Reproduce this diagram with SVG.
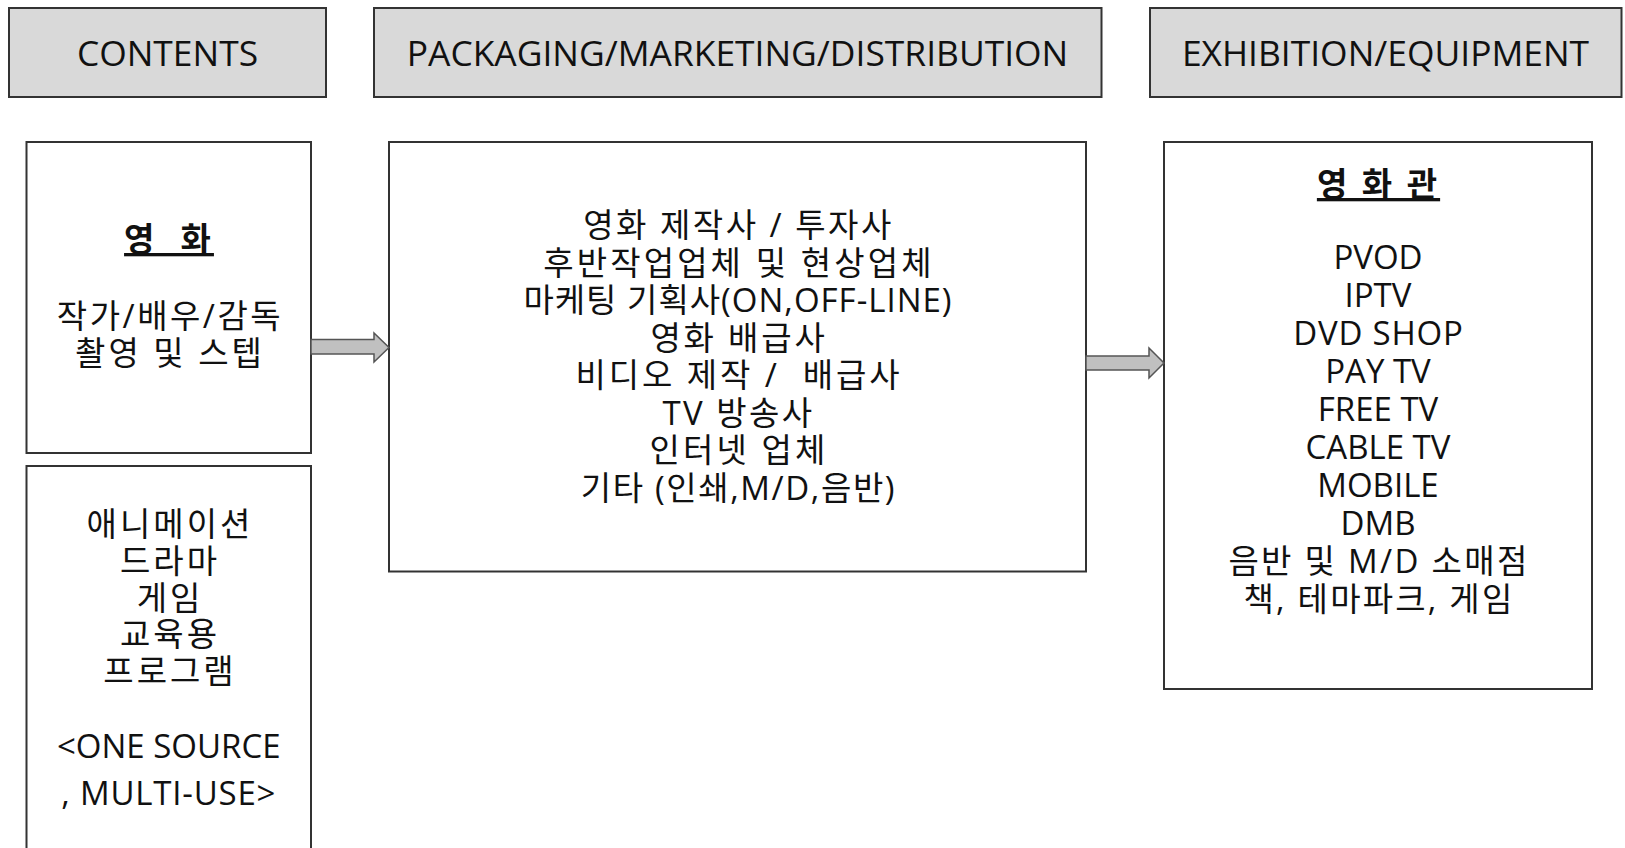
<svg xmlns="http://www.w3.org/2000/svg" width="1625" height="848" viewBox="0 0 1625 848">
<style>
.hdr{fill:#d9d9d9;stroke:#333;stroke-width:2}
.box{fill:#fff;stroke:#333;stroke-width:2}
text{font-family:"Open Sans","Noto Sans CJK KR",sans-serif;fill:#111;text-anchor:middle}
.h{font-size:35.4px}
.t{font-size:33px}
.k{letter-spacing:3px}
.b{font-size:33px;font-weight:bold;text-decoration:underline;letter-spacing:3px}
.arr{fill:#c0c0c0;stroke:#555;stroke-width:1.5;stroke-linejoin:miter}
</style>
<rect width="1625" height="848" fill="#fff"/>
<g id="hdr-contents">
<rect class="hdr" x="9" y="8" width="317" height="89"/>
<text class="h" x="167.5" y="66">CONTENTS</text>
</g>
<g id="hdr-packaging">
<rect class="hdr" x="374" y="8" width="727.5" height="89"/>
<text class="h" x="737.5" y="66">PACKAGING/MARKETING/DISTRIBUTION</text>
</g>
<g id="hdr-exhibition">
<rect class="hdr" x="1150" y="8" width="471.5" height="89"/>
<text class="h" x="1385.5" y="66">EXHIBITION/EQUIPMENT</text>
</g>
<g id="node-movie">
<rect class="box" x="26.5" y="142" width="284.5" height="311"/>
<text class="b" x="169" y="251" xml:space="preserve">영  화</text>
<text class="t" x="170" y="328" style="letter-spacing:2.5px">작가/배우/감독</text>
<text class="t k" x="170" y="365">촬영 및 스텝</text>
</g>
<g id="node-other">
<rect class="box" x="26.5" y="466" width="284.5" height="400"/>
<text class="t k" x="170" y="536">애니메이션</text>
<text class="t k" x="170" y="573">드라마</text>
<text class="t k" x="170" y="610">게임</text>
<text class="t k" x="170" y="646">교육용</text>
<text class="t k" x="170" y="683">프로그램</text>
<text class="t" x="168.75" y="758">&lt;ONE SOURCE</text>
<text class="t" x="168.75" y="805" style="letter-spacing:0.8px">, MULTI-USE&gt;</text>
</g>
<g id="node-distribution">
<rect class="box" x="389" y="142" width="697" height="429.5"/>
<text class="t" x="738.5" y="237" style="letter-spacing:2.5px">영화 제작사 / 투자사</text>
<text class="t" x="739" y="274.5" style="letter-spacing:3.1px">후반작업업체 및 현상업체</text>
<text class="t" x="738" y="312" style="letter-spacing:1px">마케팅 기획사(ON,OFF-LINE)</text>
<text class="t" x="739" y="349.5" style="letter-spacing:2.8px">영화 배급사</text>
<text class="t" x="739" y="387" style="letter-spacing:2.9px" xml:space="preserve">비디오 제작 /  배급사</text>
<text class="t" x="738.5" y="424.5" style="letter-spacing:2.4px">TV 방송사</text>
<text class="t" x="739" y="462" style="letter-spacing:3.1px">인터넷 업체</text>
<text class="t" x="738.5" y="499.5" style="letter-spacing:1.6px">기타 (인쇄,M/D,음반)</text>
</g>
<g id="node-theater">
<rect class="box" x="1164" y="142" width="428" height="547"/>
<text class="b" x="1378.5" y="196" style="letter-spacing:3px">영 화 관</text>
<text class="t" x="1378" y="269">PVOD</text>
<text class="t" x="1378" y="307">IPTV</text>
<text class="t" x="1378.5" y="345" style="letter-spacing:0.8px">DVD SHOP</text>
<text class="t" x="1378" y="383">PAY TV</text>
<text class="t" x="1378" y="421">FREE TV</text>
<text class="t" x="1378" y="459">CABLE TV</text>
<text class="t" x="1378" y="497">MOBILE</text>
<text class="t" x="1378" y="535">DMB</text>
<text class="t" x="1379" y="573" style="letter-spacing:2.3px">음반 및 M/D 소매점</text>
<text class="t" x="1379" y="611" style="letter-spacing:2.2px">책, 테마파크, 게임</text>
</g>
<g id="connectors">
<polygon class="arr" points="311,339.5 374,339.5 374,333 389,347.5 374,362 374,354 311,354"/>
<polygon class="arr" points="1086,356 1149,356 1149,348 1164,363 1149,378 1149,370 1086,370"/>
</g>
</svg>
